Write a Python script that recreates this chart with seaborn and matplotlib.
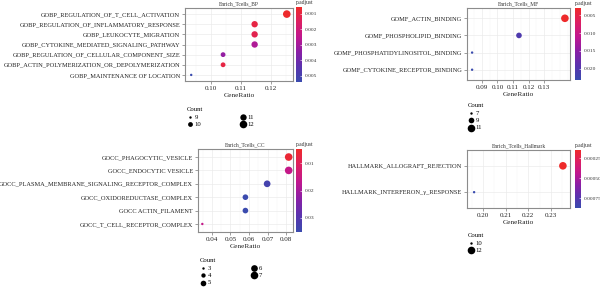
import numpy as np
import pandas as pd
import matplotlib
matplotlib.use('Agg')
import matplotlib.pyplot as plt
from matplotlib.colors import LinearSegmentedColormap, Normalize
from matplotlib.ticker import AutoMinorLocator, FormatStrFormatter
import seaborn as sns

# BP panel
bp_terms = ['GOBP_REGULATION_OF_T_CELL_ACTIVATION', 'GOBP_REGULATION_OF_INFLAMMATORY_RESPONSE',
            'GOBP_LEUKOCYTE_MIGRATION', 'GOBP_CYTOKINE_MEDIATED_SIGNALING_PATHWAY',
            'GOBP_REGULATION_OF_CELLULAR_COMPONENT_SIZE', 'GOBP_ACTIN_POLYMERIZATION_OR_DEPOLYMERIZATION',
            'GOBP_MAINTENANCE OF LOCATION']
bp_ratio = [0.1254, 0.1146, 0.1146, 0.1146, 0.1040, 0.1040, 0.0933]
bp_count = [12, 11, 11, 11, 10, 10, 9]
bp_padj = [0.0006, 0.0010, 0.0012, 0.0028, 0.0033, 0.0010, 0.0054]
bp_breaks = [9, 10, 11, 12]

# MF panel
mf_terms = ['GOMF_ACTIN_BINDING', 'GOMF_PHOSPHOLIPID_BINDING',
            'GOMF_PHOSPHATIDYLINOSITOL_BINDING', 'GOMF_CYTOKINE_RECEPTOR_BINDING']
mf_ratio = [0.1432, 0.1138, 0.0838, 0.0838]
mf_count = [11, 9, 7, 7]
mf_padj = [0.0030, 0.0205, 0.0232, 0.0232]
mf_breaks = [7, 9, 11]

# CC panel
cc_terms = ['GOCC_PHAGOCYTIC_VESICLE', 'GOCC_ENDOCYTIC VESICLE',
            'GOCC_PLASMA_MEMBRANE_SIGNALING_RECEPTOR_COMPLEX', 'GOCC_OXIDOREDUCTASE_COMPLEX',
            'GOCC ACTIN_FILAMENT', 'GOCC_T_CELL_RECEPTOR_COMPLEX']
cc_ratio = [0.0814, 0.0814, 0.0698, 0.0581, 0.0581, 0.0349]
cc_count = [7, 7, 6, 5, 5, 3]
cc_padj = [0.006, 0.016, 0.033, 0.035, 0.035, 0.016]
cc_breaks = [3, 4, 5, 6, 7]

# Hallmark panel
hm_terms = ['HALLMARK_ALLOGRAFT_REJECTION', 'HALLMARK_INTERFERON_\u03b3_RESPONSE']
hm_ratio = [0.2353, 0.1960]
hm_count = [12, 10]
hm_padj = [0.00015, 0.000875]
hm_breaks = [10, 12]

plt.rcParams['font.family'] = ['Liberation Serif', 'DejaVu Serif']

cmap = LinearSegmentedColormap.from_list(
    'padj', ['#EE2A2A', '#DC1F63', '#C0178F', '#8A1FA6', '#5A33AE', '#3A4BAE'])

fig = plt.figure(figsize=(6, 2.88), dpi=100)
W, H = 600.0, 288.0


def box(x0, x1, y0, y1):
    return [x0 / W, 1 - y1 / H, (x1 - x0) / W, (y1 - y0) / H]


def panel(title, terms, ratio, count, padj, breaks, axbox, cbox, vlim, cfmt,
          cticks, xticks, legpos, ncol, colsp, xpad=0.065):
    df = pd.DataFrame({'term': terms, 'GeneRatio': ratio, 'Count': count, 'p.adjust': padj})
    lo, hi = min(breaks), max(breaks)
    smin, smax = 3.0, 30.0
    sizes = {c: smin + (c - lo) / (hi - lo) * (smax - smin) for c in breaks}
    norm = Normalize(vmin=vlim[0], vmax=vlim[1])
    ax = fig.add_axes(box(*axbox))
    sns.scatterplot(data=df, x='GeneRatio', y='term', hue='p.adjust', size='Count',
                    sizes=sizes, palette=cmap, hue_norm=norm, linewidth=0,
                    legend=False, ax=ax, zorder=3)
    n = len(terms)
    ax.set_ylim(n - 0.4, -0.6)
    r0, r1 = min(ratio), max(ratio)
    pad = (r1 - r0) * xpad
    ax.set_xlim(r0 - pad, r1 + pad)
    ax.set_xticks(xticks)
    ax.xaxis.set_major_formatter(FormatStrFormatter('%.2f'))
    ax.xaxis.set_minor_locator(AutoMinorLocator(2))
    ax.grid(True, which='major', color='#EBEBEB', lw=0.5, zorder=0)
    ax.grid(True, which='minor', axis='x', color='#F3F3F3', lw=0.3, zorder=0)
    ax.set_axisbelow(True)
    for s in ax.spines.values():
        s.set_color('#8C8C8C')
        s.set_linewidth(0.8)
    ax.tick_params(axis='both', which='major', length=2, width=0.4, color='#555555',
                   labelsize=5.0, pad=1.5, labelcolor='#222222')
    ax.tick_params(axis='y', labelsize=4.55)
    ax.tick_params(axis='x', which='minor', length=0)
    ax.set_ylabel('')
    ax.set_xlabel('GeneRatio', fontsize=5.2, labelpad=1.5, color='#222222')
    ax.set_title(title, fontsize=4.0, pad=2, color='#333333')

    cax = fig.add_axes(box(*cbox))
    sm = plt.cm.ScalarMappable(norm=norm, cmap=cmap)
    cb = fig.colorbar(sm, cax=cax)
    cb.outline.set_visible(False)
    cb.set_ticks(cticks)
    cb.ax.yaxis.set_major_formatter(FormatStrFormatter(cfmt))
    cax.invert_yaxis()
    cax.tick_params(length=1.2, width=0.4, color='white', direction='in',
                    labelsize=3.9, pad=2, labelcolor='#333333')
    cax.set_title('p.adjust', fontsize=4.0, loc='left', pad=2.5, color='#333333')

    handles = [ax.scatter([], [], s=sizes[c], color='black', linewidth=0) for c in breaks]
    fig.legend(handles, [str(c) for c in breaks], title='Count', ncol=ncol,
               loc='upper left', bbox_to_anchor=(legpos[0] / W, 1 - legpos[1] / H),
               frameon=False, fontsize=4.8, title_fontsize=4.8,
               handletextpad=0.2, labelspacing=0.25, columnspacing=colsp,
               borderpad=0, handlelength=1.0, alignment='left')
    return ax


panel('Enrich_Tcells_BP', bp_terms, bp_ratio, bp_count, bp_padj, bp_breaks,
      (185, 293, 8, 81), (296, 302, 7, 82), (0.00056, 0.0054), '%.3f',
      [0.001, 0.002, 0.003, 0.004, 0.005], [0.10, 0.11, 0.12], (183, 104), 2, 5.8)

panel('Enrich_Tcells_MF', mf_terms, mf_ratio, mf_count, mf_padj, mf_breaks,
      (467, 570, 8, 80), (575, 581, 8, 80), (0.0029, 0.0232), '%.3f',
      [0.005, 0.010, 0.015, 0.020], [0.09, 0.10, 0.11, 0.12, 0.13], (464, 100), 1, 1.0,
      xpad=0.055)

panel('Enrich_Tcells_CC', cc_terms, cc_ratio, cc_count, cc_padj, cc_breaks,
      (198, 293, 149, 232), (296, 302, 149, 232), (0.0048, 0.0352), '%.2f',
      [0.01, 0.02, 0.03], [0.04, 0.05, 0.06, 0.07, 0.08], (196, 255), 2, 6.0, xpad=0.05)

panel('Enrich_Tcells_Hallmark', hm_terms, hm_ratio, hm_count, hm_padj, hm_breaks,
      (467, 570, 150, 208), (575, 581, 150, 208), (0.00015, 0.000875), '%.5f',
      [0.00025, 0.00050, 0.00075], [0.20, 0.21, 0.22, 0.23], (464, 230), 1, 1.0,
      xpad=0.08)

fig.savefig('out.png', dpi=100)
